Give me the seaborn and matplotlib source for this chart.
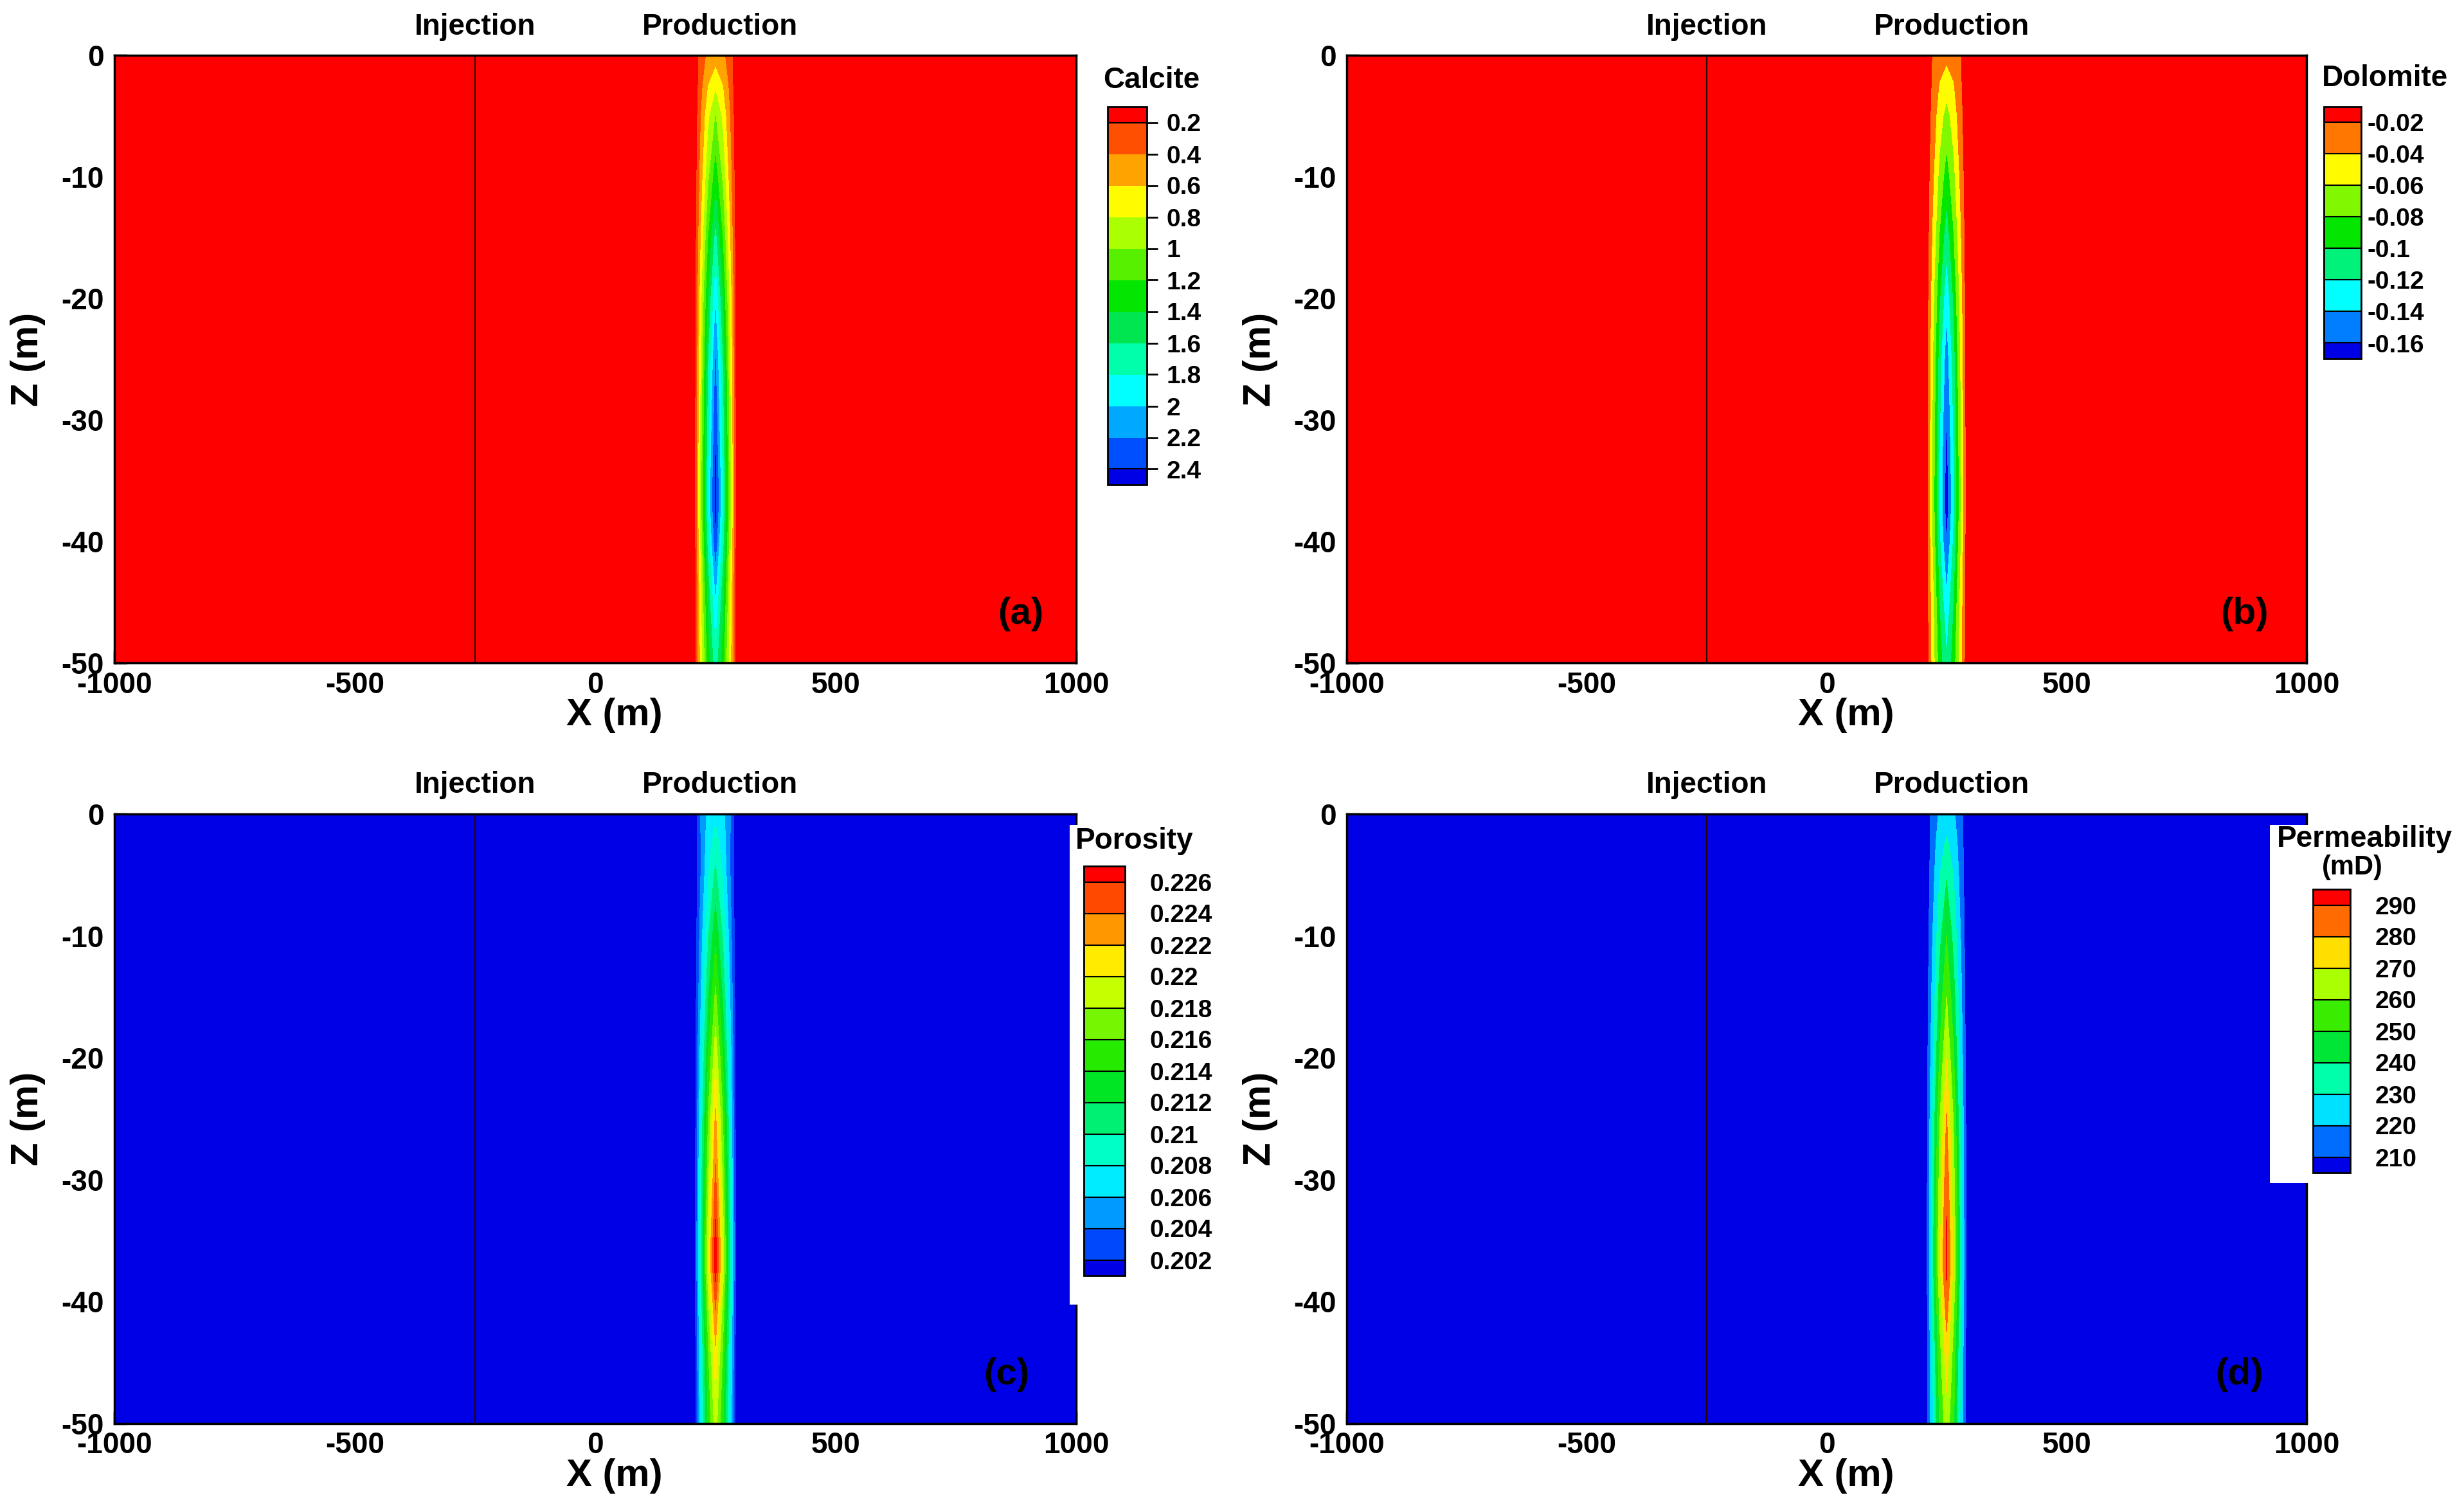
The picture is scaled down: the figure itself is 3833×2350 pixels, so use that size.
import numpy as np
import matplotlib
matplotlib.use("Agg")
import matplotlib.pyplot as plt
from matplotlib.patches import Rectangle
from matplotlib.ticker import MultipleLocator
import seaborn as sns

# ---- data ----
# well positions along X (m) and model extent
INJECTION_X = -250
PRODUCTION_X = 250
X_RANGE = [-1000, 1000]

# depth rows of the sampled plume (m)
DEPTH = [0, -2.5, -5, -10, -15, -20, -25, -30, -35, -37.5, -40, -45, -50]
# lateral offsets from the production well (m)
OFFSET = [-45, -30, -15, 0, 15, 30, 45]
# fraction of the peak change reached at each offset, one row per depth
SHAPE = [
    [0, 0.60, 0.88, 1, 0.88, 0.60, 0],
    [0, 0.45, 0.80, 1, 0.80, 0.45, 0],
    [0, 0.40, 0.75, 1, 0.75, 0.40, 0],
    [0, 0.38, 0.73, 1, 0.73, 0.38, 0],
    [0, 0.37, 0.72, 1, 0.72, 0.37, 0],
    [0, 0.37, 0.72, 1, 0.72, 0.37, 0],
    [0, 0.37, 0.72, 1, 0.72, 0.37, 0],
    [0, 0.37, 0.72, 1, 0.72, 0.37, 0],
    [0, 0.37, 0.72, 1, 0.72, 0.37, 0],
    [0, 0.37, 0.72, 1, 0.72, 0.37, 0],
    [0, 0.37, 0.72, 1, 0.72, 0.37, 0],
    [0, 0.38, 0.74, 1, 0.74, 0.38, 0],
    [0, 0.40, 0.76, 1, 0.76, 0.40, 0],
]

# background value and value at the well for each depth row
CALCITE_BG = 0.0
CALCITE_PEAK = [0.5, 0.75, 1.0, 1.3, 1.65, 1.95, 2.2, 2.33, 2.45, 2.45, 2.32, 1.95, 1.7]
DOLOMITE_BG = 0.0
DOLOMITE_PEAK = [-0.035, -0.052, -0.068, -0.09, -0.113, -0.135, -0.152, -0.162,
                 -0.17, -0.17, -0.161, -0.136, -0.118]
POROSITY_BG = 0.2
POROSITY_PEAK = [0.2075, 0.209, 0.2105, 0.2135, 0.2165, 0.2195, 0.2225, 0.2245,
                 0.2268, 0.2268, 0.2245, 0.221, 0.219]
PERM_BG = 200.0
PERM_PEAK = [224, 232, 239, 250, 260, 270, 281, 287, 292, 292, 286, 274, 266]

# legend levels and their labels
CALCITE_LEVELS = [0.2, 0.4, 0.6, 0.8, 1.0, 1.2, 1.4, 1.6, 1.8, 2.0, 2.2, 2.4]
CALCITE_LABELS = ["0.2", "0.4", "0.6", "0.8", "1", "1.2", "1.4", "1.6", "1.8", "2", "2.2", "2.4"]
DOLOMITE_LEVELS = [-0.16, -0.14, -0.12, -0.1, -0.08, -0.06, -0.04, -0.02]
DOLOMITE_LABELS = ["-0.16", "-0.14", "-0.12", "-0.1", "-0.08", "-0.06", "-0.04", "-0.02"]
POROSITY_LEVELS = [0.202, 0.204, 0.206, 0.208, 0.21, 0.212, 0.214, 0.216, 0.218,
                   0.22, 0.222, 0.224, 0.226]
POROSITY_LABELS = ["0.202", "0.204", "0.206", "0.208", "0.21", "0.212", "0.214", "0.216",
                   "0.218", "0.22", "0.222", "0.224", "0.226"]
PERM_LEVELS = [210, 220, 230, 240, 250, 260, 270, 280, 290]
PERM_LABELS = ["210", "220", "230", "240", "250", "260", "270", "280", "290"]

# ---- style ----
sns.set_theme(style="ticks")
plt.rcParams["font.family"] = ["Liberation Sans", "DejaVu Sans"]
plt.rcParams["font.weight"] = "bold"
plt.rcParams["axes.unicode_minus"] = False
plt.rcParams["text.color"] = "black"
plt.rcParams["axes.labelcolor"] = "black"
plt.rcParams["xtick.color"] = "black"
plt.rcParams["ytick.color"] = "black"

# tecplot-like rainbow, low (blue) to high (red)
RAINBOW = ["#0000e6", "#0050ff", "#00aaff", "#00ffff", "#00ffaa", "#00e650",
           "#00e600", "#55f000", "#aaff00", "#ffff00", "#ffa500", "#ff5000", "#ff0000"]

W, H = 3833, 2350


def fig_box(l, t, r, b):
    return [l / W, 1 - b / H, (r - l) / W, (b - t) / H]


def build_field(background, peak):
    gx = [X_RANGE[0]] + [PRODUCTION_X + o for o in OFFSET] + [X_RANGE[1]]
    rows = []
    for p, frac in zip(peak, SHAPE):
        rows.append([background] + [background + (p - background) * f for f in frac] + [background])
    return np.array(gx, float), np.array(DEPTH, float), np.array(rows)


panels = [
    dict(bg=CALCITE_BG, peak=CALCITE_PEAK, levels=CALCITE_LEVELS, labels=CALCITE_LABELS,
         reverse=True, title="Calcite", tag="(a)", tag_x=885,
         ax_box=(178, 86, 1674, 1031), cb_box=(1723, 166, 1784, 754),
         title_xy=(1791, 125), marks=True, pad=10, white=None),
    dict(bg=DOLOMITE_BG, peak=DOLOMITE_PEAK, levels=DOLOMITE_LEVELS, labels=DOLOMITE_LABELS,
         reverse=False, title="Dolomite", tag="(b)", tag_x=870,
         ax_box=(2095, 86, 3588, 1031), cb_box=(3615, 166, 3673, 558),
         title_xy=(3710, 122), marks=False, pad=7, white=None),
    dict(bg=POROSITY_BG, peak=POROSITY_PEAK, levels=POROSITY_LEVELS, labels=POROSITY_LABELS,
         reverse=False, title="Porosity", tag="(c)", tag_x=855,
         ax_box=(178, 1266, 1674, 2214), cb_box=(1686, 1347, 1750, 1984),
         title_xy=(1765, 1308), marks=False, pad=28, white=(1664, 1283, 1900, 2029)),
    dict(bg=PERM_BG, peak=PERM_PEAK, levels=PERM_LEVELS, labels=PERM_LABELS,
         reverse=False, title="Permeability", tag="(d)", tag_x=860,
         ax_box=(2095, 1266, 3588, 2214), cb_box=(3598, 1383, 3656, 1824),
         title_xy=(3678, 1305), marks=False, pad=28, white=(3531, 1283, 3833, 1840)),
]

fig = plt.figure(figsize=(W / 100, H / 100), dpi=100)

for p in panels:
    ax = fig.add_axes(fig_box(*p["ax_box"]))
    gx, gz, field = build_field(p["bg"], p["peak"])
    n_col = len(p["levels"]) + 1
    pal = sns.blend_palette(RAINBOW, n_col)
    if p["reverse"]:
        pal = pal[::-1]
    cs = ax.contourf(gx, gz, field, levels=p["levels"], colors=pal, extend="both")

    ax.axvline(INJECTION_X, color="#2a0000", lw=1.5)
    ax.set_xlim(*X_RANGE)
    ax.set_ylim(-50, 0)
    ax.xaxis.set_major_locator(MultipleLocator(500))
    ax.xaxis.set_minor_locator(MultipleLocator(100))
    ax.yaxis.set_major_locator(MultipleLocator(10))
    ax.yaxis.set_minor_locator(MultipleLocator(2))
    ax.tick_params(which="major", direction="in", length=14, width=2.5, color="black",
                   labelsize=33, labelcolor="black", top=False, right=False)
    ax.tick_params(which="minor", direction="in", length=8, width=2, color="black",
                   top=False, right=False)
    ax.tick_params(axis="x", pad=9)
    ax.tick_params(axis="y", pad=12)
    for s in ax.spines.values():
        s.set_linewidth(2.5)
        s.set_color("black")

    ax.set_xlabel("X (m)", fontsize=43, fontweight="bold", color="black")
    ax.xaxis.set_label_coords(0.52, -0.086)
    ax.xaxis.label.set_verticalalignment("center")
    ax.set_ylabel("Z (m)", fontsize=43, fontweight="bold", color="black")
    ax.yaxis.set_label_coords(-0.09, 0.5)
    ax.yaxis.label.set_verticalalignment("center")

    for wx, name in [(INJECTION_X, "Injection"), (PRODUCTION_X + 10, "Production")]:
        ax.text(wx, 1.047, name, transform=ax.get_xaxis_transform(), ha="center",
                va="center", fontsize=33, fontweight="bold", color="black")
    ax.text(p["tag_x"], -46, p["tag"], ha="center", va="center", fontsize=42,
            fontweight="bold", color="black")

    if p["white"] is not None:
        box = fig_box(*p["white"])
        fig.patches.append(Rectangle(box[:2], box[2], box[3], transform=fig.transFigure,
                                     facecolor="white", edgecolor="none", zorder=1))

    cax = fig.add_axes(fig_box(*p["cb_box"]))
    cax.set_zorder(2)
    cb = fig.colorbar(cs, cax=cax, drawedges=True, extendrect=True,
                      extendfrac=0.5 / (len(p["levels"]) - 1))
    cb.set_ticks(p["levels"], labels=p["labels"])
    cb.minorticks_off()
    cb.outline.set_linewidth(2)
    cb.outline.set_edgecolor("black")
    cb.dividers.set_color("black")
    cb.dividers.set_linewidth(1.5)
    if p["reverse"]:
        cax.invert_yaxis()
    if p["marks"]:
        cax.tick_params(length=12, width=2, color="black", pad=p["pad"], labelsize=28,
                        labelcolor="black")
    else:
        cax.tick_params(length=0, pad=p["pad"], labelsize=28, labelcolor="black")
    for t in cax.get_yticklabels():
        t.set_fontweight("bold")

    tx, ty = p["title_xy"]
    fig.text(tx / W, 1 - ty / H, p["title"], ha="center", va="center", fontsize=33,
             fontweight="bold", color="black", zorder=3)
    if p["title"] == "Permeability":
        fig.text(3659 / W, 1 - 1349 / H, "(mD)", ha="center", va="center", fontsize=30,
                 fontweight="bold", color="black", zorder=3)

fig.savefig("out.png", dpi=100, facecolor="white")
